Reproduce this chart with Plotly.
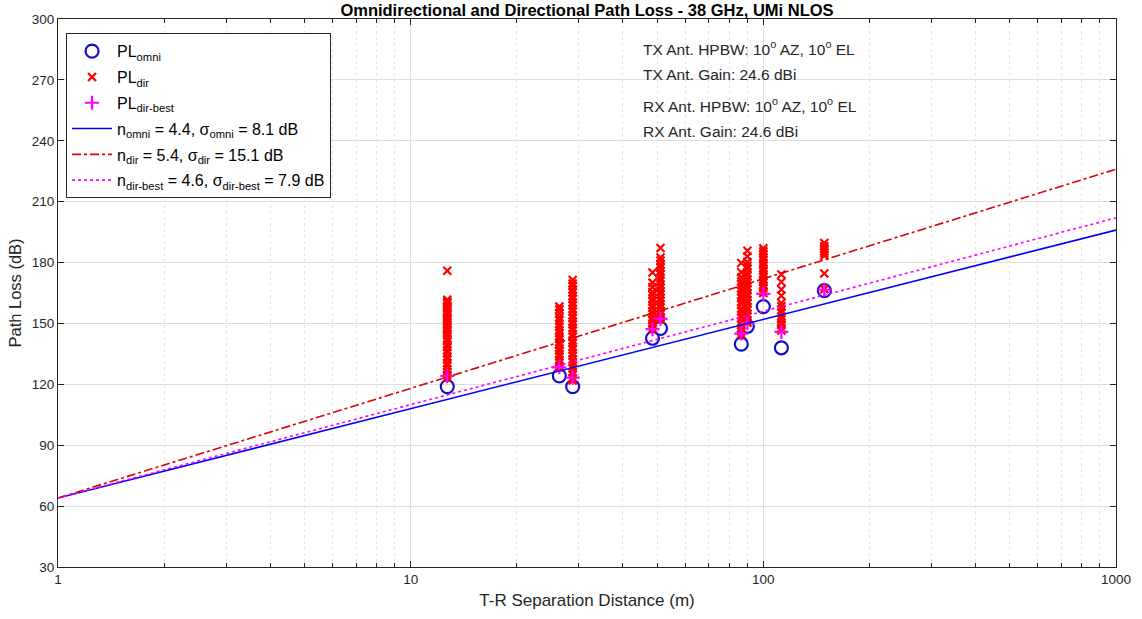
import numpy as np
import plotly.graph_objects as go

# T-R distances (m) of the measured locations
distances = [12.7, 26.4, 28.8, 48.5, 51.1, 86.6, 90.1, 100.0, 112.5, 148.9]

# omnidirectional path loss (dB), one per location
pl_omni = [118.9, 124.2, 118.9, 142.7, 147.6, 139.8, 148.6, 158.3, 138.0, 166.2]

# best directional path loss (dB), one per location
pl_dir_best = [124.1, 128.4, 123.3, 147.2, 152.3, 145.0, 150.1, 164.6, 145.8, 166.6]

# all directional path loss values (dB) per location
dir_12 = [176.0, 161.6, 160.6, 159.9, 158.5, 157.6, 156.1, 155.2, 154.1, 152.6, 151.7, 150.2,
          149.3, 147.8, 146.6, 145.1, 144.2, 142.5, 141.3, 139.6, 138.5, 136.8, 135.4, 133.6,
          132.3, 130.5, 129.2, 127.4, 126.1, 124.7, 123.4]
dir_26 = [158.3, 156.8, 154.9, 153.0, 151.6, 149.7, 148.3, 146.6, 145.2, 143.5, 142.3, 140.6,
          139.4, 137.7, 136.5, 134.9, 133.7, 132.0, 130.8, 129.2, 128.3]
dir_29 = [171.4, 169.7, 168.6, 166.8, 165.3, 163.5, 162.1, 160.3, 158.9, 157.1, 155.8, 154.0,
          152.7, 150.9, 149.6, 147.8, 146.5, 144.7, 143.4, 141.6, 140.3, 138.5, 137.2, 135.4,
          134.1, 132.3, 131.0, 129.2, 127.9, 126.1, 124.8, 123.0, 121.9]
dir_49 = [175.1, 170.1, 167.9, 165.5, 164.0, 162.2, 160.9, 159.1, 157.8, 156.0, 154.7, 152.9,
          151.6, 149.9, 148.7, 147.4]
dir_51 = [187.2, 182.5, 181.0, 179.0, 177.5, 175.7, 174.2, 172.4, 170.9, 169.1, 167.6, 165.8,
          164.4, 162.5, 161.1, 159.3, 157.9, 156.1, 154.7, 153.0, 152.1]
dir_87 = [179.8, 175.2, 172.7, 170.8, 169.2, 167.3, 165.9, 164.0, 162.6, 160.7, 159.3, 157.4,
          156.0, 154.1, 152.7, 150.8, 149.4, 147.5, 146.1, 144.6]
dir_90 = [185.8, 183.0, 180.3, 178.4, 176.9, 174.9, 173.4, 171.5, 170.0, 168.1, 166.6, 164.7,
          163.2, 161.3, 159.9, 158.0, 156.6, 154.7, 153.3, 151.4, 150.3]
dir_100 = [187.0, 185.5, 184.3, 182.7, 181.5, 179.9, 178.7, 177.1, 175.9, 174.3, 173.1, 171.5,
           170.3, 168.7, 167.5, 165.9, 165.0]
dir_113 = [174.1, 170.4, 166.7, 163.6, 160.1, 158.5, 156.6, 155.2, 153.4, 152.1, 150.4, 149.2,
           147.6, 146.5]
dir_149 = [189.6, 188.0, 187.0, 185.6, 184.7, 183.4, 174.6, 166.9]
pl_dir = [dir_12, dir_26, dir_29, dir_49, dir_51, dir_87, dir_90, dir_100, dir_113, dir_149]

# fitted close-in model: PL = FSPL(1 m) + 10 n log10(d)
fspl_1m = 64.0
n_omni, sigma_omni = 4.4, 8.1
n_dir, sigma_dir = 5.4, 15.1
n_best, sigma_best = 4.6, 7.9
fit_d = [1, 1000]

notes = ["TX Ant. HPBW: 10<sup>o</sup> AZ, 10<sup>o</sup> EL",
         "TX Ant. Gain: 24.6 dBi",
         "RX Ant. HPBW: 10<sup>o</sup> AZ, 10<sup>o</sup> EL",
         "RX Ant. Gain: 24.6 dBi"]
notes_y = [0.947, 0.898, 0.843, 0.794]

dir_x = [d for d, vals in zip(distances, pl_dir) for _ in vals]
dir_y = [v for vals in pl_dir for v in vals]


def fit_line(n):
    return [fspl_1m + 10 * n * np.log10(d) for d in fit_d]


fig = go.Figure()
fig.add_trace(go.Scatter(x=distances, y=pl_omni, mode='markers', name='PL<sub>omni</sub>', legendgroup='a',
                         marker=dict(symbol='circle-open', size=13, color='#1010d0', line=dict(width=2.2))))
fig.add_trace(go.Scatter(x=dir_x, y=dir_y, mode='markers', name='PL<sub>dir</sub>', legendgroup='b',
                         marker=dict(symbol='x-thin', size=8, color='#ff0000', line=dict(width=2.2, color='#ff0000'))))
fig.add_trace(go.Scatter(x=distances, y=pl_dir_best, mode='markers', name='PL<sub>dir-best</sub>', legendgroup='c',
                         marker=dict(symbol='cross-thin', size=10, color='#ff00ff', line=dict(width=2.2, color='#ff00ff'))))
fig.add_trace(go.Scatter(x=fit_d, y=fit_line(n_omni), mode='lines', legendgroup='d',
                         name='n<sub>omni</sub> = 4.4, σ<sub>omni</sub> = 8.1 dB',
                         line=dict(color='#0000ff', width=1.6)))
fig.add_trace(go.Scatter(x=fit_d, y=fit_line(n_dir), mode='lines', legendgroup='e',
                         name='n<sub>dir</sub> = 5.4, σ<sub>dir</sub> = 15.1 dB',
                         line=dict(color='#e00000', width=1.6, dash='dashdot')))
fig.add_trace(go.Scatter(x=fit_d, y=fit_line(n_best), mode='lines', legendgroup='f',
                         name='n<sub>dir-best</sub> = 4.6, σ<sub>dir-best</sub> = 7.9 dB',
                         line=dict(color='#ff00ff', width=1.6, dash='dot')))

for text, y in zip(notes, notes_y):
    fig.add_annotation(x=0.551, y=y, xref='paper', yref='paper', text=text, showarrow=False,
                       xanchor='left', yanchor='middle', font=dict(size=15.5, color='#262626'))

fig.update_layout(
    width=1142, height=619,
    margin=dict(l=58, r=26, t=19, b=52),
    plot_bgcolor='white',
    paper_bgcolor='white',
    font=dict(family='Liberation Sans, Arial, sans-serif', size=13, color='#262626'),
    title=dict(text='<b>Omnidirectional and Directional Path Loss - 38 GHz, UMi NLOS</b>',
               x=0.5, xref='paper', xanchor='center', y=0.984, yanchor='middle',
               font=dict(size=16.5, color='#000000')),
    xaxis=dict(
        type='log', range=[0, 3], dtick=1,
        showline=True, linecolor='#262626', linewidth=1, mirror='ticks',
        ticks='inside', ticklen=6, tickcolor='#262626',
        showgrid=True, gridcolor='#dedede', gridwidth=1,
        zeroline=False,
        tickfont=dict(size=13.5),
        title=dict(text='T-R Separation Distance (m)', font=dict(size=17), standoff=7),
        minor=dict(dtick='D1', ticks='inside', ticklen=4, tickcolor='#262626',
                   showgrid=True, gridcolor='#e4e4e4', griddash='dot', gridwidth=1),
    ),
    yaxis=dict(
        range=[30, 300], dtick=30,
        showline=True, linecolor='#262626', linewidth=1, mirror='ticks',
        ticks='inside', ticklen=6, tickcolor='#262626',
        showgrid=True, gridcolor='#dedede', gridwidth=1,
        zeroline=False,
        tickfont=dict(size=13.5),
        title=dict(text='Path Loss (dB)', font=dict(size=16.5), standoff=5),
    ),
    legend=dict(x=0.0076, y=0.974, xanchor='left', yanchor='top',
                bgcolor='white', bordercolor='#262626', borderwidth=1,
                font=dict(size=16, color='#000000'), tracegroupgap=2, itemwidth=40),
    showlegend=True,
)

# drop the page's default body margin so the figure sits at the window corner
fig.write_html("out.html", config={'displayModeBar': False},
               post_script="document.body.style.margin='0';")
